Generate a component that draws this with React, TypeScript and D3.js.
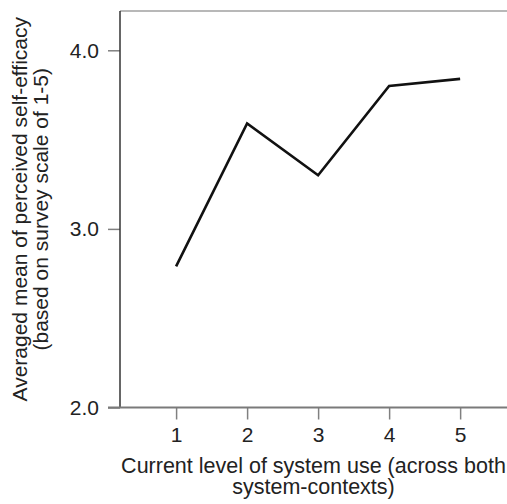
import React, { useEffect, useRef } from "react";
import * as d3 from "d3";

// Current level of system use (x) vs averaged perceived self-efficacy (y)
const levels = [1, 2, 3, 4, 5];
const efficacy = [2.79, 3.59, 3.3, 3.8, 3.84];
const yTicks = [2.0, 3.0, 4.0];
const xTitle = ["Current level of system use (across both", "system-contexts)"];
const yTitle = ["Averaged mean of perceived self-efficacy", "(based on survey scale of 1-5)"];

const W = 507;
const H = 504;
const FONT = "'Liberation Sans', Arial, Helvetica, sans-serif";

export default function App() {
  const ref = useRef<SVGSVGElement | null>(null);

  useEffect(() => {
    const svg = d3.select(ref.current);
    svg.selectAll("*").remove();

    const left = 120;
    const right = 507;
    const top = 11;
    const bottom = 407.5;

    const x = d3.scaleLinear().domain([0.21, 5.66]).range([left, right]);
    const y = d3.scaleLinear().domain([2, 4.22]).range([bottom, top]);

    // top frame line
    svg.append("line")
      .attr("x1", left).attr("x2", right)
      .attr("y1", top).attr("y2", top)
      .attr("stroke", "#a0a0a0").attr("stroke-width", 1.5);

    // left axis
    const yAxis = svg.append("g").attr("transform", `translate(${left},0)`)
      .call(d3.axisLeft(y).tickValues(yTicks).tickFormat(d3.format(".1f")).tickSize(12).tickPadding(9));
    yAxis.select(".domain").remove();
    yAxis.selectAll(".tick line").attr("stroke", "#808080").attr("stroke-width", 1.5);
    yAxis.selectAll("text").attr("font-family", FONT).attr("font-size", 21).attr("fill", "#222");
    svg.append("line")
      .attr("x1", left).attr("x2", left)
      .attr("y1", top).attr("y2", bottom)
      .attr("stroke", "#333").attr("stroke-width", 1.5);

    // bottom axis
    const xAxis = svg.append("g").attr("transform", `translate(0,${bottom})`)
      .call(d3.axisBottom(x).tickValues(levels).tickFormat(d3.format("d")).tickSize(12).tickPadding(8));
    xAxis.select(".domain").remove();
    xAxis.selectAll(".tick line").attr("stroke", "#808080").attr("stroke-width", 1.5);
    xAxis.selectAll("text").attr("font-family", FONT).attr("font-size", 21).attr("fill", "#222");
    svg.append("line")
      .attr("x1", left - 12).attr("x2", right)
      .attr("y1", bottom).attr("y2", bottom)
      .attr("stroke", "#7a7a7a").attr("stroke-width", 2);

    // data line
    const line = d3.line<number>()
      .x((_, i) => x(levels[i]))
      .y((d) => y(d));
    svg.append("path")
      .datum(efficacy)
      .attr("d", line)
      .attr("fill", "none")
      .attr("stroke", "#111")
      .attr("stroke-width", 2.6)
      .attr("stroke-linejoin", "miter");

    // x title
    const cx = (left + right) / 2;
    svg.append("text")
      .attr("font-family", FONT).attr("font-size", 21.5).attr("fill", "#222")
      .attr("text-anchor", "middle")
      .selectAll("tspan")
      .data(xTitle)
      .join("tspan")
      .attr("x", cx)
      .attr("y", (_, i) => 473 + i * 21)
      .text((d) => d);

    // y title
    const cy = (top + bottom) / 2;
    svg.append("text")
      .attr("font-family", FONT).attr("font-size", 21).attr("fill", "#222")
      .attr("text-anchor", "middle")
      .attr("transform", `translate(0,${cy}) rotate(-90)`)
      .selectAll("tspan")
      .data(yTitle)
      .join("tspan")
      .attr("x", 0)
      .attr("y", (_, i) => 27 + i * 21)
      .text((d) => d);
  }, []);

  return (
    <svg
      ref={ref}
      width={W}
      height={H}
      style={{ position: "absolute", left: 0, top: 0, background: "#fff" }}
    />
  );
}
